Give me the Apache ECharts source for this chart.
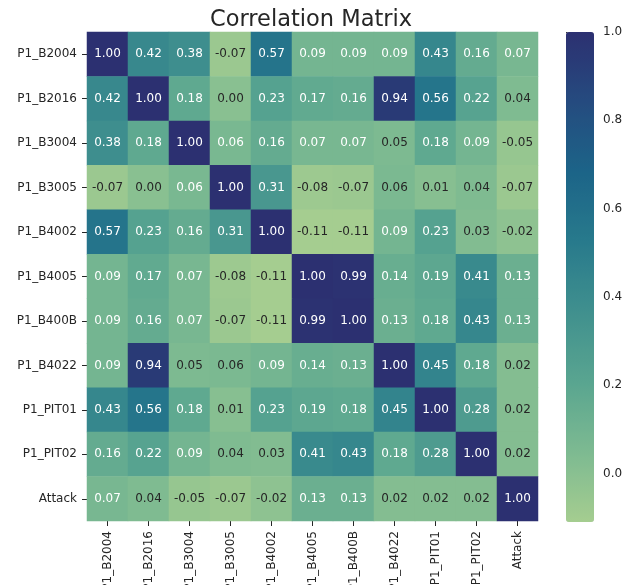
<!DOCTYPE html>
<html>
<head>
<meta charset="utf-8">
<script src="https://cdn.jsdelivr.net/npm/echarts@6/dist/echarts.min.js"></script>
<style>
  html, body { margin: 0; padding: 0; background: #ffffff; }
  #chart { width: 633px; height: 585px; }
</style>
</head>
<body>
<div id="chart"></div>
<script>
// ---- data ----
const labels = ['P1_B2004', 'P1_B2016', 'P1_B3004', 'P1_B3005', 'P1_B4002', 'P1_B4005',
                'P1_B400B', 'P1_B4022', 'P1_PIT01', 'P1_PIT02', 'Attack'];

const rowB2004 = [1.00, 0.42, 0.38, -0.07, 0.57, 0.09, 0.09, 0.09, 0.43, 0.16, 0.07];
const rowB2016 = [0.42, 1.00, 0.18, 0.00, 0.23, 0.17, 0.16, 0.94, 0.56, 0.22, 0.04];
const rowB3004 = [0.38, 0.18, 1.00, 0.064, 0.16, 0.07, 0.07, 0.05, 0.18, 0.09, -0.05];
const rowB3005 = [-0.07, 0.00, 0.064, 1.00, 0.31, -0.08, -0.07, 0.056, 0.01, 0.04, -0.07];
const rowB4002 = [0.57, 0.23, 0.16, 0.31, 1.00, -0.11, -0.11, 0.09, 0.23, 0.03, -0.02];
const rowB4005 = [0.09, 0.17, 0.07, -0.08, -0.11, 1.00, 0.99, 0.14, 0.19, 0.41, 0.13];
const rowB400B = [0.09, 0.16, 0.07, -0.07, -0.11, 0.99, 1.00, 0.13, 0.18, 0.43, 0.13];
const rowB4022 = [0.09, 0.94, 0.05, 0.056, 0.09, 0.14, 0.13, 1.00, 0.45, 0.18, 0.02];
const rowPIT01 = [0.43, 0.56, 0.18, 0.01, 0.23, 0.19, 0.18, 0.45, 1.00, 0.28, 0.02];
const rowPIT02 = [0.16, 0.22, 0.09, 0.04, 0.03, 0.41, 0.43, 0.18, 0.28, 1.00, 0.02];
const rowAttack = [0.07, 0.04, -0.05, -0.07, -0.02, 0.13, 0.13, 0.02, 0.02, 0.02, 1.00];

const matrix = [rowB2004, rowB2016, rowB3004, rowB3005, rowB4002, rowB4005,
                rowB400B, rowB4022, rowPIT01, rowPIT02, rowAttack];

const colorMin = -0.11;
const colorMax = 1.0;
const colorbarTickMin = 0.0;
const colorbarTickStep = 0.2;

// seaborn "crest" colormap stops (evenly spaced)
const crest = ['#a5cd90', '#7dba91', '#59a590', '#40908e', '#287a8c', '#1c6488', '#254b7f', '#2c3071'];

const textDark = '#262626';
const FONT = 'DejaVu Sans';

const heatData = [];
matrix.forEach((row, yi) => {
  row.forEach((v, xi) => {
    heatData.push({
      value: [xi, yi, v],
      label: { color: v >= 0.06 ? '#ffffff' : textDark }
    });
  });
});

// colorbar geometry
const cbTop = 32, cbHeight = 490, cbLeft = 566, cbWidth = 28;
// the tick axis covers the part of the colorbar from 0.0 up to 1.0
const tickAxisHeight = cbHeight * (colorMax - colorbarTickMin) / (colorMax - colorMin);

const chart = echarts.init(document.getElementById('chart'), null, { renderer: 'canvas' });

chart.setOption({
  animation: false,
  backgroundColor: '#ffffff',
  textStyle: { fontFamily: FONT },
  title: {
    text: 'Correlation Matrix',
    left: 210,
    top: 9,
    padding: 0,
    textStyle: { fontFamily: FONT, fontSize: 22.5, fontWeight: 'normal', color: textDark }
  },
  grid: [
    { left: 87, top: 32, width: 451, height: 489, containLabel: false, outerBoundsMode: 'none' },
    { left: cbLeft, top: cbTop, width: cbWidth, height: tickAxisHeight, containLabel: false, outerBoundsMode: 'none' }
  ],
  xAxis: [
    {
      type: 'category',
      gridIndex: 0,
      data: labels,
      position: 'bottom',
      axisLine: { show: false },
      axisTick: { show: true, alignWithLabel: true, length: 5, lineStyle: { color: textDark, width: 1 } },
      axisLabel: { rotate: 90, margin: 10, fontSize: 12, color: textDark, fontFamily: FONT, interval: 0 },
      splitLine: { show: false }
    },
    {
      type: 'value',
      gridIndex: 1,
      show: false,
      min: 0,
      max: 1
    }
  ],
  yAxis: [
    {
      type: 'category',
      gridIndex: 0,
      data: labels,
      inverse: true,
      axisLine: { show: false },
      axisTick: { show: true, alignWithLabel: true, length: 5, lineStyle: { color: textDark, width: 1 } },
      axisLabel: { margin: 10, fontSize: 12, color: textDark, fontFamily: FONT, interval: 0 },
      splitLine: { show: false }
    },
    {
      type: 'value',
      gridIndex: 1,
      min: colorbarTickMin,
      max: colorMax,
      interval: colorbarTickStep,
      position: 'right',
      axisLine: { show: false },
      splitLine: { show: false },
      axisTick: { show: true, length: 5, lineStyle: { color: textDark, width: 1 } },
      axisLabel: {
        show: true,
        margin: 9,
        fontSize: 12,
        color: textDark,
        fontFamily: FONT,
        showMaxLabel: true,
        showMinLabel: true,
        width: 40,
        overflow: 'none',
        formatter: (v) => Number(v).toFixed(1) + '\u200b'
      }
    }
  ],
  visualMap: {
    type: 'continuous',
    seriesIndex: 0,
    min: colorMin,
    max: colorMax,
    calculable: false,
    orient: 'vertical',
    left: cbLeft,
    top: cbTop,
    padding: 0,
    itemWidth: cbWidth,
    itemHeight: cbHeight,
    inRange: { color: crest },
    hoverLink: false
  },
  series: [
    {
      type: 'heatmap',
      xAxisIndex: 0,
      yAxisIndex: 0,
      data: heatData,
      label: {
        show: true,
        fontSize: 12,
        fontFamily: FONT,
        formatter: (p) => p.value[2].toFixed(2)
      },
      itemStyle: { borderWidth: 0 },
      emphasis: { disabled: true }
    }
  ]
});
</script>
</body>
</html>
